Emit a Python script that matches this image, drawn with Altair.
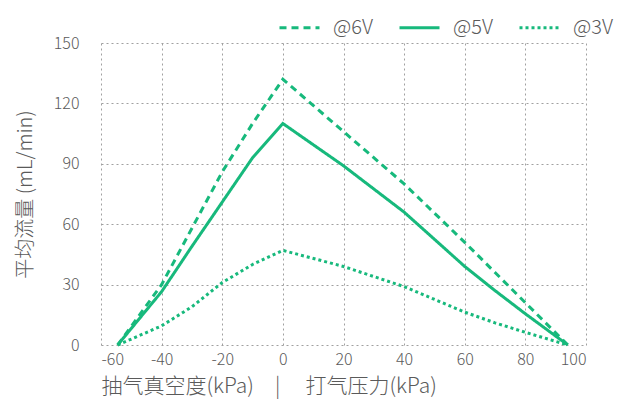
import altair as alt
import pandas as pd

x_vals = [-54.5, -40, -30, -20, -10, 0, 20, 40, 60, 70, 80, 94]
v6 = [0, 30, 58, 86, 110, 132, 106, 80, 51, 36, 21, 0]
v5 = [0, 26.5, 49, 71, 93, 110, 89, 66, 39, 27, 15.5, 0]
v3 = [0, 9.5, 19, 31, 40, 47, 39, 29, 16.3, 11, 6.3, 0]
series = ["@6V", "@5V", "@3V"]
dashes = [[7, 5], [1, 0], [3, 3]]

rows = []
for name, vals in zip(series, [v6, v5, v3]):
    for x, y in zip(x_vals, vals):
        rows.append({"s": name, "x": x, "y": y})
df = pd.DataFrame(rows)

GREEN = "#17B97C"
FONT = "Noto Sans CJK SC"

chart = alt.Chart(df).mark_line(color=GREEN, strokeWidth=3).encode(
    x=alt.X("x:Q", scale=alt.Scale(domain=[-60, 100], nice=False),
            axis=alt.Axis(values=list(range(-60, 101, 20)), labelExpr="'' + datum.value",
                          title="抽气真空度(kPa)\u3000|\u3000\u2009打气压力(kPa)",
                          titleAnchor="start", titleAlign="left")),
    y=alt.Y("y:Q", scale=alt.Scale(domain=[0, 150], nice=False),
            axis=alt.Axis(values=[0, 30, 60, 90, 120, 150], title="平均流量 (mL/min)")),
    strokeDash=alt.StrokeDash("s:N", scale=alt.Scale(domain=series, range=dashes),
                              legend=alt.Legend(title=None, orient="none", legendX=177, legendY=-37,
                                                direction="horizontal")),
    detail="s:N",
).properties(
    width=485, height=302,
    autosize=alt.AutoSizeParams(type="none"),
    padding={"left": 93, "top": 35, "right": 48, "bottom": 59},
).configure_view(stroke=None).configure_axis(
    grid=True, gridColor="#A0A0A0", gridDash=[2, 3], gridWidth=1,
    domain=False, ticks=False,
    labelFont=FONT, labelFontSize=16, labelColor="#5A5A5A", labelFontWeight=300,
    titleFont=FONT, titleFontSize=21, titleColor="#5A5A5A", titleFontWeight=300,
).configure_axisX(labelPadding=6, titlePadding=8).configure_axisY(
    labelPadding=22, titlePadding=18, titleFontSize=20
).configure_legend(
    symbolType="stroke", symbolSize=1600, symbolStrokeColor=GREEN, symbolStrokeWidth=3,
    labelFont=FONT, labelFontSize=20, labelColor="#5A5A5A", labelFontWeight=300, labelOffset=12,
    columnPadding=20,
)

chart.save("out.html", embed_options={"renderer": "svg", "actions": False})
